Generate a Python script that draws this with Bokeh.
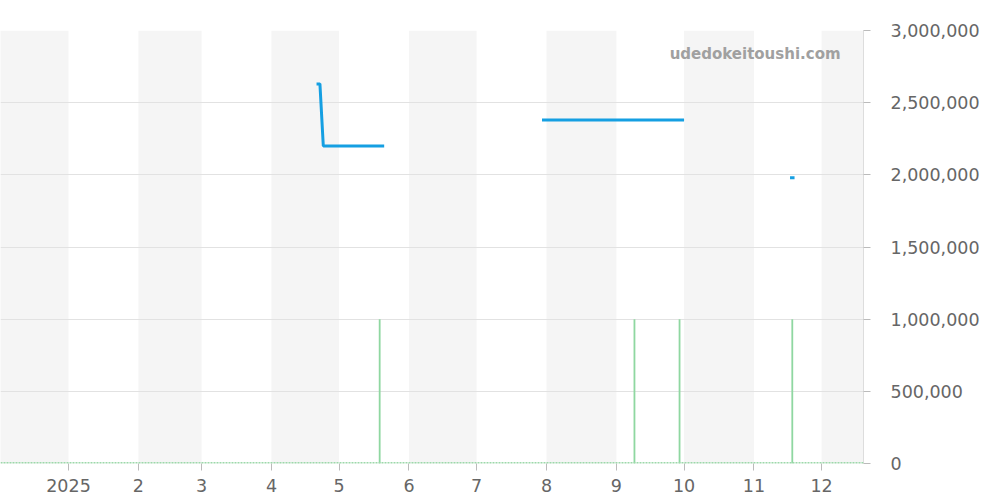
import numpy as np
import pandas as pd
from bokeh.plotting import figure
from bokeh.models import (BoxAnnotation, Span, Label, FixedTicker, NumeralTickFormatter,
                          Range1d, ColumnDataSource)
from bokeh.embed import file_html
from bokeh.resources import INLINE

# ---- data ----
price_dates = ["2025-04-21", "2025-04-22 12:00", "2025-04-24", "2025-05-21", None,
               "2025-07-30", "2025-10-01", None,
               "2025-11-17", "2025-11-19"]
price_values = [2630000, 2630000, 2200000, 2200000, None,
                2380000, 2380000, None,
                1980000, 1980000]

volume_dates = ["2025-05-19", "2025-09-09", "2025-09-29", "2025-11-18"]
volume_values = [1000000, 1000000, 1000000, 1000000]

month_starts = ["2024-12-01", "2025-01-01", "2025-02-01", "2025-03-01", "2025-04-01",
                "2025-05-01", "2025-06-01", "2025-07-01", "2025-08-01", "2025-09-01",
                "2025-10-01", "2025-11-01", "2025-12-01", "2026-01-01"]
x_tick_labels = ["2025", "2", "3", "4", "5", "6", "7", "8", "9", "10", "11", "12"]
y_ticks = [0, 500000, 1000000, 1500000, 2000000, 2500000, 3000000]

def ms(d):
    return pd.Timestamp(d).value / 1e6

x_start = ms("2024-12-01 20:00")
x_end = ms("2025-12-19 14:00")

p = figure(x_axis_type="datetime", output_backend="svg", toolbar_location=None,
           frame_width=863, frame_height=433,
           min_border_left=0, min_border_top=30, min_border_right=121, min_border_bottom=35,
           x_range=Range1d(x_start, x_end), y_range=Range1d(0, 3000000),
           y_axis_location="right")
p.outline_line_color = None
p.background_fill_color = "white"

# alternating month bands
for i in range(0, len(month_starts) - 1, 2):
    p.add_layout(BoxAnnotation(left=ms(month_starts[i]), right=ms(month_starts[i + 1]),
                               fill_color="#f5f5f5", fill_alpha=1.0, line_color=None,
                               level="image"))

# grid
p.xgrid.grid_line_color = None
p.ygrid.grid_line_color = "#e2e2e2"
p.ygrid.ticker = FixedTicker(ticks=y_ticks)

# volume bars
vsrc = ColumnDataSource(dict(x=np.array([ms(d) for d in volume_dates]),
                             top=np.array(volume_values, dtype=float)))
p.vbar(x="x", top="top", width=0.8 * 86400000, source=vsrc,
       fill_color="#8fd7a1", line_color=None)
p.add_layout(Span(location=0, dimension="width", line_color="#9dd8aa",
                  line_width=3, line_dash="2 1"))

# price line
px = np.array([ms(d) if d else np.nan for d in price_dates], dtype=float)
py = np.array([v if v is not None else np.nan for v in price_values], dtype=float)
p.line(x=px, y=py, line_color="#159fe2", line_width=3)

# axes
xa = p.xaxis[0]
tick_ms = [ms(d) for d in month_starts[1:13]]
xa.ticker = FixedTicker(ticks=tick_ms)
xa.major_label_overrides = {t: lab for t, lab in zip(tick_ms, x_tick_labels)}
xa.axis_line_color = None
xa.major_tick_line_color = "#bbbbbb"
xa.major_tick_in = 0
xa.major_tick_out = 7
xa.minor_tick_line_color = None
xa.major_label_text_font = "DejaVu Sans"
xa.major_label_text_font_size = "17.5px"
xa.major_label_text_color = "#666666"
xa.major_label_standoff = 8

ya = p.yaxis[0]
ya.ticker = FixedTicker(ticks=y_ticks)
ya.formatter = NumeralTickFormatter(format="0,0")
ya.axis_line_color = "#dddddd"
ya.major_tick_line_color = "#bbbbbb"
ya.major_tick_in = 0
ya.major_tick_out = 7
ya.minor_tick_line_color = None
ya.major_label_text_font = "DejaVu Sans"
ya.major_label_text_font_size = "17.5px"
ya.major_label_text_color = "#666666"
ya.major_label_standoff = 20

# watermark
p.add_layout(Label(x=ms("2025-12-09 10:00"), y=2840000, text="udedokeitoushi.com",
                   text_align="right", text_baseline="middle",
                   text_font="DejaVu Sans", text_font_style="bold",
                   text_font_size="15px", text_color="#a0a0a0"))

open("out.html", "w").write(file_html(p, INLINE))
